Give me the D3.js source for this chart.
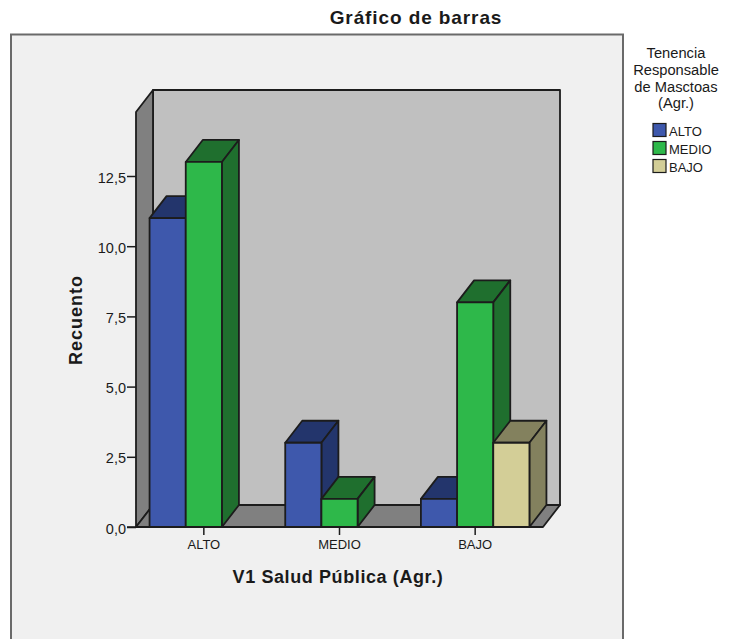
<!DOCTYPE html>
<html><head><meta charset="utf-8">
<script src="https://cdn.jsdelivr.net/npm/d3@7"></script>
<style>html,body{margin:0;padding:0;background:#fff}svg{display:block}text{font-family:"Liberation Sans",Arial,sans-serif;fill:#1a1a1a}</style>
</head><body><div id="c"></div>
<script>
const categories = ["ALTO","MEDIO","BAJO"];
const seriesNames = ["ALTO","MEDIO","BAJO"];
const valuesAlto = [11,3,1];
const valuesMedio = [13,1,8];
const valuesBajo = [0,0,3];
const seriesValues = [valuesAlto,valuesMedio,valuesBajo];
const frontColors = ["#3e58ac","#2eb84a","#d3ce97"];
const shadeColors = ["#23356c","#1f6f2e","#83815e"];
const yTicks = [0,2.5,5,7.5,10,12.5];
const legendTitle = ["Tenencia","Responsable","de Masctoas","(Agr.)"];

const W=731,H=639,dx=17,dy=22;
const svg=d3.select("#c").append("svg").attr("width",W).attr("height",H);
svg.append("rect").attr("x",11).attr("y",34.5).attr("width",612).attr("height",H+20)
  .attr("fill","#f0f0f0").attr("stroke","#6a6a6a").attr("stroke-width",2);

const y=d3.scaleLinear().domain([0,12.5]).range([527,176]);
const x0=d3.scaleBand().domain(categories).range([136,543]).paddingInner(0.2).paddingOuter(0.1);
const x1=d3.scaleBand().domain(seriesNames).range([0,x0.bandwidth()]);
const fmt=d3.formatLocale({decimal:",",thousands:".",grouping:[3],currency:["","€"]}).format(".1f");
const yTop=y(14.78), L=x0.range()[0], R=x0.range()[1], B=y(0);
const line=d3.line();
const stroke="#1c1c1c";
const poly=(pts,fill,g=svg)=>g.append("path").attr("d",line(pts)+"Z").attr("fill",fill)
  .attr("stroke",stroke).attr("stroke-width",1.8).attr("stroke-linejoin","round");

poly([[L+dx,yTop-dy],[R+dx,yTop-dy],[R+dx,B-dy],[L+dx,B-dy]],"#c0c0c0");
poly([[L,yTop],[L+dx,yTop-dy],[L+dx,B-dy],[L,B]],"#808080");
poly([[L,B],[L+dx,B-dy],[R+dx,B-dy],[R,B]],"#808080");

categories.forEach((c,ci)=>{
  seriesNames.forEach((s,si)=>{
    const v=seriesValues[si][ci];
    if(!v) return;
    const a=x0(c)+x1(s), b=a+x1.bandwidth(), t=y(v);
    const g=svg.append("g");
    poly([[a,t],[a+dx,t-dy],[b+dx,t-dy],[b,t]],shadeColors[si],g);
    poly([[b,t],[b+dx,t-dy],[b+dx,B-dy],[b,B]],shadeColors[si],g);
    poly([[a,t],[b,t],[b,B],[a,B]],frontColors[si],g);
  });
});

const font='"Liberation Sans",Arial,sans-serif';
const ax=svg.append("g").attr("transform",`translate(${L},0)`)
  .call(d3.axisLeft(y).tickValues(yTicks).tickFormat(fmt).tickSize(9).tickPadding(1));
ax.select(".domain").remove();
ax.selectAll("line").attr("stroke",stroke).attr("stroke-width",1.5);
ax.selectAll("text").attr("font-size",14.5).attr("dy","0.42em").style("font-family",font).attr("fill","#2a2a2a");
const bx=svg.append("g").attr("transform",`translate(0,${B})`)
  .call(d3.axisBottom(x0).tickSize(8).tickPadding(3));
bx.select(".domain").remove();
bx.selectAll("line").attr("stroke",stroke).attr("stroke-width",1.5);
bx.selectAll("text").attr("font-size",13).attr("y",13).attr("dy","0.71em").style("font-family",font).attr("fill","#2a2a2a");
svg.append("line").attr("x1",L-9).attr("x2",R).attr("y1",B).attr("y2",B).attr("stroke",stroke).attr("stroke-width",1.6);

svg.append("text").attr("x",416).attr("y",24).attr("text-anchor","middle").attr("font-weight","bold").attr("font-size",19).attr("letter-spacing",0.9).text("Gráfico de barras");
svg.append("text").attr("x",338).attr("y",583).attr("text-anchor","middle").attr("font-weight","bold").attr("font-size",18).attr("letter-spacing",0.6).text("V1 Salud Pública (Agr.)");
svg.append("text").attr("transform","translate(82,320) rotate(-90)").attr("text-anchor","middle").attr("font-weight","bold").attr("font-size",18).attr("letter-spacing",1).text("Recuento");

const lt=svg.append("g");
legendTitle.forEach((t,i)=>lt.append("text").attr("x",676).attr("y",58+i*16.8).attr("text-anchor","middle").attr("font-size",14.7).attr("fill","#2a2a2a").text(t));
const ly=d3.scalePoint().domain(seriesNames).range([130,166]);
seriesNames.forEach((s,i)=>{
  svg.append("rect").attr("x",653).attr("y",ly(s)-6.5).attr("width",13).attr("height",13)
    .attr("fill",frontColors[i]).attr("stroke",stroke).attr("stroke-width",1.2);
  svg.append("text").attr("x",669).attr("y",ly(s)+5.5).attr("font-size",13).attr("fill","#2a2a2a").text(s);
});
</script></body></html>
